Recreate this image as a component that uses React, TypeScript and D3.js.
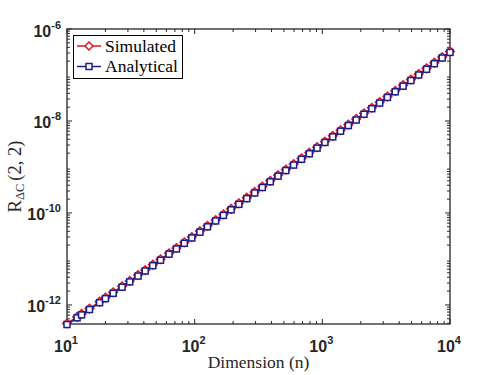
import React, { useEffect, useRef } from "react";
import * as d3 from "d3";

// dimension n (log-spaced, rounded)
const dims = [
  10, 12, 13, 15, 18, 20, 23, 27, 31, 36, 41, 47, 54, 63, 72, 83, 95, 110, 126, 146,
  168, 193, 222, 256, 295, 339, 391, 450, 518, 596, 687, 791, 910, 1048, 1207, 1389,
  1600, 1842, 2121, 2442, 2812, 3237, 3728, 4292, 4942, 5690, 6551, 7543, 8685, 10000,
];

const simulated = [
  3.95e-13, 5.5e-13, 6.38e-13, 8.33e-13, 1.18e-12, 1.44e-12, 1.88e-12, 2.55e-12,
  3.33e-12, 4.45e-12, 5.74e-12, 7.5e-12, 9.85e-12, 1.33e-11, 1.73e-11, 2.3e-11,
  3.0e-11, 4.01e-11, 5.25e-11, 7.03e-11, 9.29e-11, 1.23e-10, 1.62e-10, 2.15e-10,
  2.86e-10, 3.76e-10, 5.0e-10, 6.62e-10, 8.77e-10, 1.16e-9, 1.54e-9, 2.04e-9,
  2.7e-9, 3.58e-9, 4.75e-9, 6.29e-9, 8.35e-9, 1.11e-8, 1.47e-8, 1.94e-8, 2.57e-8,
  3.41e-8, 4.53e-8, 6.0e-8, 7.95e-8, 1.05e-7, 1.4e-7, 1.85e-7, 2.46e-7, 3.26e-7,
];

const analytical = [
  3.75e-13, 5.24e-13, 6.08e-13, 7.94e-13, 1.12e-12, 1.37e-12, 1.79e-12, 2.43e-12,
  3.17e-12, 4.24e-12, 5.47e-12, 7.14e-12, 9.38e-12, 1.27e-11, 1.65e-11, 2.19e-11,
  2.86e-11, 3.82e-11, 5.0e-11, 6.7e-11, 8.85e-11, 1.17e-10, 1.54e-10, 2.05e-10,
  2.72e-10, 3.58e-10, 4.76e-10, 6.31e-10, 8.35e-10, 1.1e-9, 1.47e-9, 1.94e-9,
  2.57e-9, 3.41e-9, 4.52e-9, 5.99e-9, 7.95e-9, 1.05e-8, 1.4e-8, 1.85e-8, 2.45e-8,
  3.25e-8, 4.31e-8, 5.71e-8, 7.57e-8, 1.0e-7, 1.33e-7, 1.76e-7, 2.34e-7, 3.1e-7,
];

const xTicks = [10, 100, 1000, 10000];
const xTickExps = ["1", "2", "3", "4"];
const yTicks = [1e-12, 1e-10, 1e-8, 1e-6];
const yTickExps = ["-12", "-10", "-8", "-6"];
const seriesNames = ["Simulated", "Analytical"];

const W = 498;
const H = 375;
const axisColor = "#262626";
const red = "#e0161e";
const blue = "#1c1c8a";
const serif = "'Liberation Serif', 'DejaVu Serif', serif";
const sans = "'Liberation Sans', Arial, Helvetica, sans-serif";

export default function App() {
  const ref = useRef<SVGSVGElement | null>(null);

  useEffect(() => {
    const svg = d3.select(ref.current);
    svg.selectAll("*").remove();

    const left = 67, right = 450, top = 29, bottom = 324;
    const x = d3.scaleLog().domain([10, 1e4]).range([left, right]);
    const y = d3.scaleLog().domain([3.85e-13, 1e-6]).range([bottom, top]);

    const axes = svg.append("g");

    // minor ticks
    const xMinor: number[] = [];
    [10, 100, 1000].forEach((d) => {
      for (let k = 2; k <= 9; k++) xMinor.push(k * d);
    });
    const yMinor: number[] = [];
    for (let e = -13; e <= -7; e++) {
      for (let k = 2; k <= 9; k++) {
        const v = k * Math.pow(10, e);
        if (v > 3.85e-13 && v < 1e-6) yMinor.push(v);
      }
    }

    const tick = (x1: number, y1: number, x2: number, y2: number) =>
      axes
        .append("line")
        .attr("x1", x1)
        .attr("y1", y1)
        .attr("x2", x2)
        .attr("y2", y2)
        .attr("stroke", axisColor)
        .attr("stroke-width", 1);

    xMinor.forEach((v) => {
      tick(x(v), bottom, x(v), bottom - 3);
      tick(x(v), top, x(v), top + 3);
    });
    xTicks.forEach((v) => {
      tick(x(v), bottom, x(v), bottom - 5);
      tick(x(v), top, x(v), top + 5);
    });
    yMinor.forEach((v) => {
      tick(left, y(v), left + 3, y(v));
      tick(right, y(v), right - 3, y(v));
    });
    yTicks.forEach((v) => {
      tick(left, y(v), left + 5, y(v));
      tick(right, y(v), right - 5, y(v));
    });

    axes
      .append("rect")
      .attr("x", left)
      .attr("y", top)
      .attr("width", right - left)
      .attr("height", bottom - top)
      .attr("fill", "none")
      .attr("stroke", axisColor)
      .attr("stroke-width", 1.3);

    // tick labels
    xTicks.forEach((v, i) => {
      const t = axes
        .append("text")
        .attr("x", x(v) - 1)
        .attr("y", bottom + 28)
        .attr("text-anchor", "middle")
        .attr("font-family", sans)
        .attr("font-weight", "bold")
        .attr("font-size", 16)
        .attr("fill", axisColor)
        .text("10");
      t.append("tspan")
        .attr("dy", -8)
        .attr("font-size", 11)
        .text(xTickExps[i]);
    });
    yTicks.forEach((v, i) => {
      const t = axes
        .append("text")
        .attr("x", left - 6)
        .attr("y", y(v) + 7.5)
        .attr("text-anchor", "end")
        .attr("font-family", sans)
        .attr("font-weight", "bold")
        .attr("font-size", 16)
        .attr("fill", axisColor)
        .text("10");
      t.append("tspan")
        .attr("dy", -8)
        .attr("font-size", 11)
        .text(yTickExps[i]);
    });

    // axis titles
    svg
      .append("text")
      .attr("x", (left + right) / 2)
      .attr("y", 368)
      .attr("text-anchor", "middle")
      .attr("font-family", serif)
      .attr("font-size", 17.5)
      .attr("fill", axisColor)
      .text("Dimension (n)");

    const yt = svg
      .append("text")
      .attr("transform", `translate(21,${(top + bottom) / 2}) rotate(-90)`)
      .attr("text-anchor", "middle")
      .attr("font-family", serif)
      .attr("font-size", 18.5)
      .attr("fill", axisColor);
    yt.append("tspan").text("R");
    yt.append("tspan").attr("font-size", 12.5).attr("dy", 3).text("ΔC");
    yt.append("tspan").attr("dy", -3).attr("dx", 3).text("(2, 2)");

    // series
    const line = d3
      .line<number>()
      .x((_, i) => x(dims[i]))
      .y((d) => y(d));

    const diamond = (cx: number, cy: number, r: number) =>
      `M${cx},${cy - r}L${cx + r},${cy}L${cx},${cy + r}L${cx - r},${cy}Z`;

    const plot = svg.append("g");
    plot
      .append("path")
      .datum(simulated)
      .attr("d", line)
      .attr("fill", "none")
      .attr("stroke", red)
      .attr("stroke-width", 1.5);
    plot
      .selectAll(".sim")
      .data(simulated)
      .enter()
      .append("path")
      .attr("d", (d, i) => diamond(x(dims[i]), y(d), 4.3))
      .attr("fill", "white")
      .attr("stroke", red)
      .attr("stroke-width", 1.5);

    plot
      .append("path")
      .datum(analytical)
      .attr("d", line)
      .attr("fill", "none")
      .attr("stroke", blue)
      .attr("stroke-width", 1.5);
    plot
      .selectAll(".ana")
      .data(analytical)
      .enter()
      .append("rect")
      .attr("x", (d, i) => x(dims[i]) - 3)
      .attr("y", (d) => y(d) - 3)
      .attr("width", 6)
      .attr("height", 6)
      .attr("fill", "white")
      .attr("stroke", blue)
      .attr("stroke-width", 1.5);

    // legend
    const lg = svg.append("g");
    lg.append("rect")
      .attr("x", 73.5)
      .attr("y", 35.5)
      .attr("width", 109)
      .attr("height", 43)
      .attr("fill", "white")
      .attr("stroke", "#000")
      .attr("stroke-width", 1);
    seriesNames.forEach((name, i) => {
      const cy = 46 + i * 20.5;
      const color = i === 0 ? red : blue;
      lg.append("line")
        .attr("x1", 77)
        .attr("x2", 101)
        .attr("y1", cy)
        .attr("y2", cy)
        .attr("stroke", color)
        .attr("stroke-width", 1.5);
      if (i === 0) {
        lg.append("path")
          .attr("d", diamond(89, cy, 4))
          .attr("fill", "white")
          .attr("stroke", color)
          .attr("stroke-width", 1.5);
      } else {
        lg.append("rect")
          .attr("x", 86)
          .attr("y", cy - 3)
          .attr("width", 6)
          .attr("height", 6)
          .attr("fill", "white")
          .attr("stroke", color)
          .attr("stroke-width", 1.5);
      }
      lg.append("text")
        .attr("x", 105)
        .attr("y", cy + 5.5)
        .attr("font-family", serif)
        .attr("font-size", 17.5)
        .attr("fill", "#000")
        .text(name);
    });
  }, []);

  return (
    <svg
      ref={ref}
      width={W}
      height={H}
      style={{ position: "absolute", left: 0, top: 0, background: "white" }}
    />
  );
}
